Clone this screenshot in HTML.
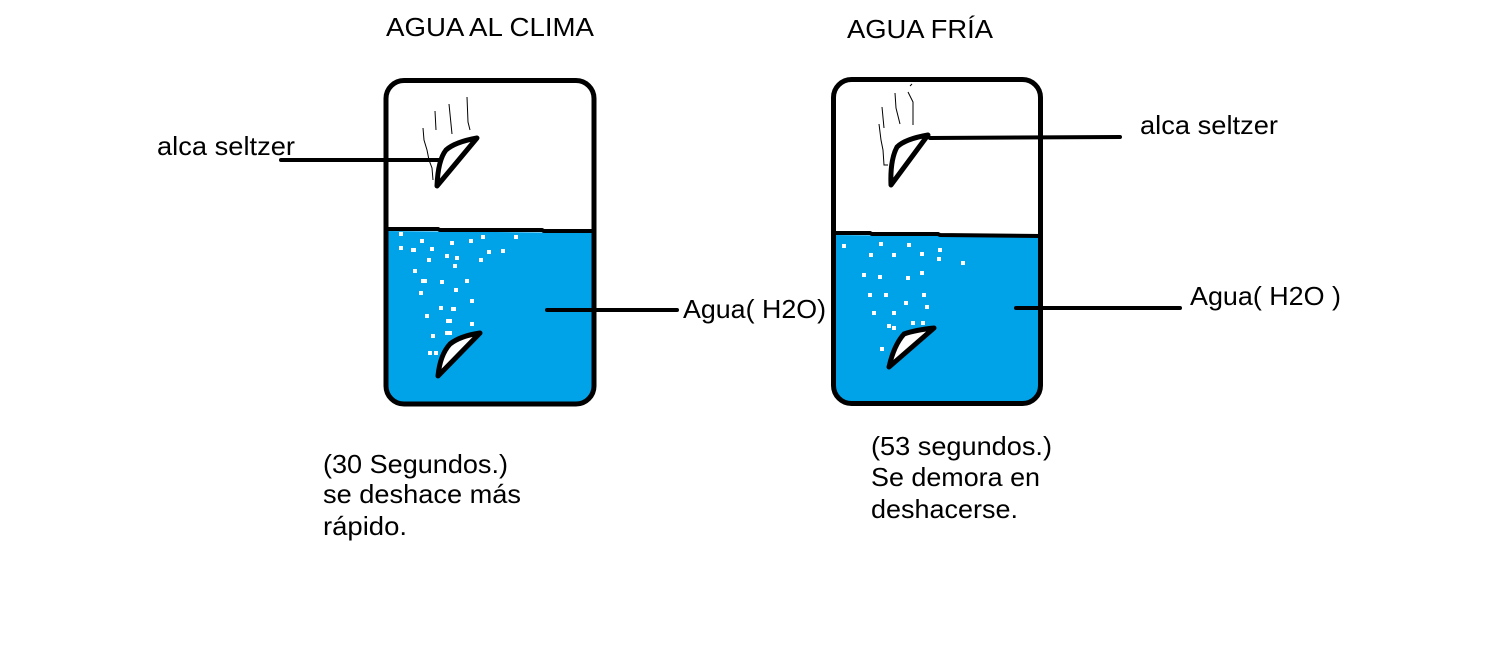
<!DOCTYPE html>
<html><head><meta charset="utf-8"><style>
html,body{margin:0;padding:0;background:#fff;}
svg{display:block;}
text{font-family:"Liberation Sans",Arial,sans-serif;font-size:26px;fill:#000;}
</style></head><body>
<svg width="1502" height="660" viewBox="0 0 1502 660" xmlns="http://www.w3.org/2000/svg">
<rect width="1502" height="660" fill="#fff"/>
<path d="M386,231 L594,233 L594,384 Q594,404 574,404 L405,404 Q386,404 386,384 Z" fill="#00A2E8"/>
<rect x="386" y="80.5" width="208" height="323.5" rx="18" fill="none" stroke="#000" stroke-width="5"/>
<path d="M386,229 L438,229 L440,230 L542,230 L544,231 L594,231" stroke="#000" stroke-width="4" fill="none"/>
<path d="M833,235 L1041,237 L1041,384 Q1041,403 1021,403 L852,403 Q833,403 833,384 Z" fill="#00A2E8"/>
<rect x="833.5" y="79.5" width="207" height="324" rx="18" fill="none" stroke="#000" stroke-width="5"/>
<path d="M833,233 L870,233 L872,234 L938,234 L940,235 L1041,236" stroke="#000" stroke-width="4" fill="none"/>
<g fill="#fff">
<rect x="399" y="232" width="4" height="4"/><rect x="420" y="239" width="4" height="4"/><rect x="450" y="241" width="4" height="4"/><rect x="469" y="239" width="4" height="4"/><rect x="481" y="235" width="4" height="4"/><rect x="514" y="235" width="4" height="4"/><rect x="399" y="246" width="4" height="4"/><rect x="411" y="248" width="5" height="4"/><rect x="430" y="247" width="4" height="4"/><rect x="445" y="254" width="4" height="4"/><rect x="455" y="256" width="4" height="4"/><rect x="487" y="250" width="4" height="4"/><rect x="501" y="249" width="4" height="4"/><rect x="427" y="258" width="4" height="4"/><rect x="479" y="258" width="4" height="4"/><rect x="453" y="264" width="4" height="4"/><rect x="413" y="269" width="4" height="4"/><rect x="421" y="279" width="6" height="4"/><rect x="440" y="280" width="4" height="4"/><rect x="465" y="279" width="4" height="4"/><rect x="419" y="291" width="4" height="4"/><rect x="454" y="288" width="4" height="4"/><rect x="470" y="299" width="4" height="4"/><rect x="439" y="306" width="4" height="4"/><rect x="451" y="307" width="5" height="4"/><rect x="425" y="314" width="4" height="4"/><rect x="446" y="319" width="6" height="4"/><rect x="470" y="322" width="4" height="4"/><rect x="445" y="331" width="7" height="4"/><rect x="431" y="334" width="4" height="4"/><rect x="428" y="351" width="4" height="4"/><rect x="434" y="351" width="4" height="4"/>
<rect x="842" y="244" width="4" height="4"/><rect x="879" y="242" width="4" height="4"/><rect x="907" y="243" width="4" height="4"/><rect x="869" y="253" width="4" height="4"/><rect x="892" y="253" width="4" height="4"/><rect x="920" y="252" width="4" height="4"/><rect x="938" y="248" width="4" height="4"/><rect x="937" y="257" width="4" height="4"/><rect x="961" y="261" width="4" height="4"/><rect x="862" y="273" width="4" height="4"/><rect x="878" y="275" width="4" height="4"/><rect x="906" y="276" width="4" height="4"/><rect x="920" y="271" width="4" height="4"/><rect x="868" y="293" width="4" height="4"/><rect x="884" y="293" width="4" height="4"/><rect x="922" y="293" width="4" height="4"/><rect x="904" y="301" width="4" height="4"/><rect x="925" y="305" width="4" height="4"/><rect x="872" y="311" width="4" height="4"/><rect x="892" y="311" width="4" height="4"/><rect x="887" y="324" width="4" height="4"/><rect x="892" y="326" width="4" height="4"/><rect x="911" y="321" width="4" height="4"/><rect x="921" y="321" width="4" height="4"/><rect x="880" y="347" width="4" height="4"/>
</g>
<g fill="#fff" stroke="#000" stroke-width="5" stroke-linejoin="round">
<path d="M437,186 Q438,160 446,150 Q455,142 477,138 Z"/>
<path d="M438,376 Q440,355 450,344 Q460,336 480,333 Z"/>
<path d="M891,185 Q890,160 897,147 Q905,139 928,135 Z"/>
<path d="M889,367 Q894,345 904,334 Q915,330 934,328 Z"/>
</g>
<g fill="none" stroke="#000" stroke-width="1">
<path d="M423,128 L424,140 L427,150 L429,160 L432,168 L433,180"/>
<path d="M435,111 L436,130"/><path d="M449,104 L452,134"/><path d="M467,97 L468,122 L470,130"/>
<path d="M879,124 L881,140 L883,150 L884,165 L888,165"/>
<path d="M882,107 L884,128"/><path d="M895,93 L896,108 L900,124"/><path d="M908,92 L913,102 L913,125"/><path d="M910,86 L912,84"/>
</g>
<g stroke="#000" stroke-width="4" stroke-linecap="round">
<line x1="281" y1="160" x2="440" y2="160"/>
<line x1="547" y1="310" x2="677" y2="310"/>
<line x1="930" y1="138" x2="1120" y2="137"/>
<line x1="1016" y1="308" x2="1180" y2="308"/>
</g>
<text x="386" y="36" textLength="208" lengthAdjust="spacingAndGlyphs">AGUA AL CLIMA</text>
<text x="847" y="38" textLength="146" lengthAdjust="spacingAndGlyphs">AGUA FRÍA</text>
<text x="157" y="155" textLength="138" lengthAdjust="spacingAndGlyphs">alca seltzer</text>
<text x="1140" y="134" textLength="138" lengthAdjust="spacingAndGlyphs">alca seltzer</text>
<text x="683" y="318" textLength="143" lengthAdjust="spacingAndGlyphs">Agua( H2O)</text>
<text x="1190" y="305" textLength="151" lengthAdjust="spacingAndGlyphs">Agua( H2O )</text>
<text x="323" y="473" textLength="185" lengthAdjust="spacingAndGlyphs">(30 Segundos.)</text>
<text x="323" y="503" textLength="198" lengthAdjust="spacingAndGlyphs">se deshace más</text>
<text x="323" y="535" textLength="84" lengthAdjust="spacingAndGlyphs">rápido.</text>
<text x="871" y="455" textLength="181" lengthAdjust="spacingAndGlyphs">(53 segundos.)</text>
<text x="871" y="486" textLength="169" lengthAdjust="spacingAndGlyphs">Se demora en</text>
<text x="871" y="518" textLength="147" lengthAdjust="spacingAndGlyphs">deshacerse.</text>
</svg>
</body></html>
